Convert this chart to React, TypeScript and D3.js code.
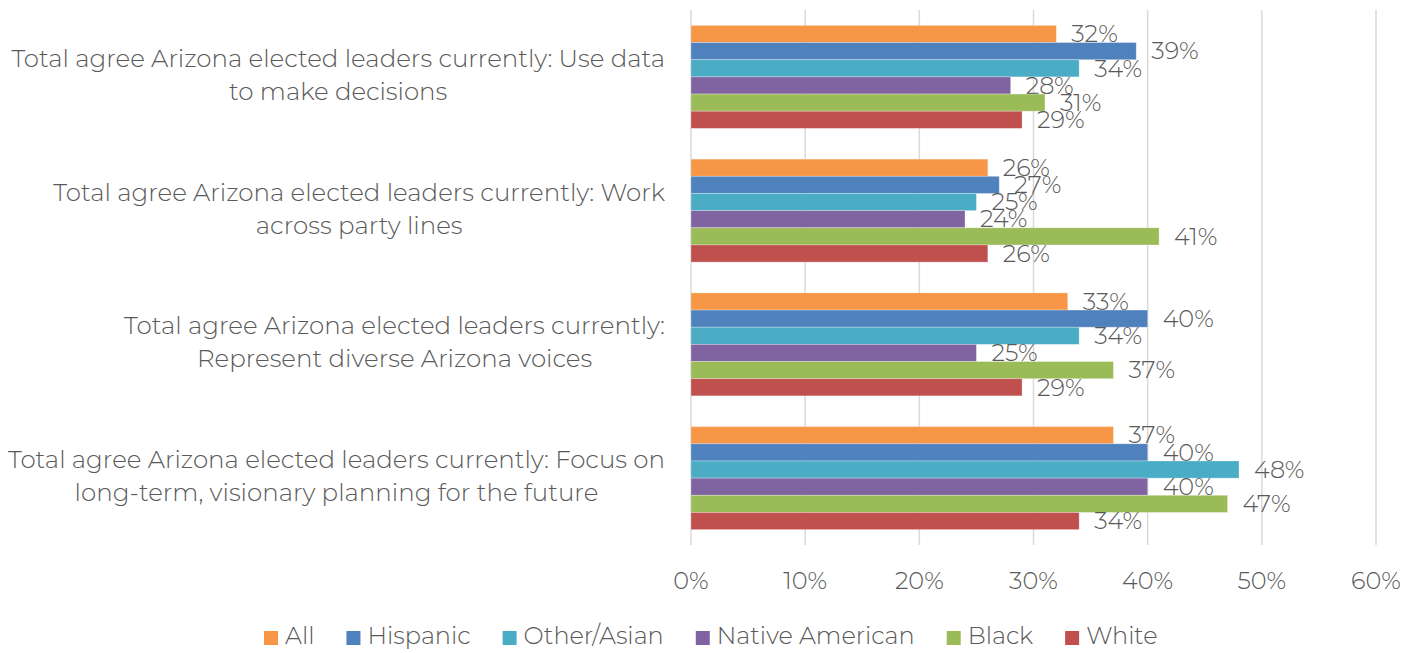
import React, { useEffect, useRef } from "react";
import * as d3 from "d3";

const categories = [
  ["Total agree Arizona elected leaders currently: Use data", "to make decisions"],
  ["Total agree Arizona elected leaders currently: Work", "across party lines"],
  ["Total agree Arizona elected leaders currently:", "Represent diverse Arizona voices"],
  ["Total agree Arizona elected leaders currently: Focus on", "long-term, visionary planning for the future"],
];
const seriesNames = ["All", "Hispanic", "Other/Asian", "Native American", "Black", "White"];
const seriesColors = ["#F79646", "#4F81BD", "#4BACC6", "#8064A2", "#9BBB59", "#C0504D"];
const allValues = [32, 26, 33, 37];
const hispanicValues = [39, 27, 40, 40];
const otherAsianValues = [34, 25, 34, 48];
const nativeAmericanValues = [28, 24, 25, 40];
const blackValues = [31, 41, 37, 47];
const whiteValues = [29, 26, 29, 34];
const seriesValues = [allValues, hispanicValues, otherAsianValues, nativeAmericanValues, blackValues, whiteValues];
const xTicks = [0, 10, 20, 30, 40, 50, 60];

const W = 1418, H = 653;
const FONT = "Montserrat, 'Open Sans', sans-serif";
const TEXT = "#595959";
const FW = 300;

export default function App() {
  const ref = useRef<SVGSVGElement>(null);
  useEffect(() => {
    const svg = d3.select(ref.current);
    svg.selectAll("*").remove();
    const x = d3.scaleLinear().domain([0, 60]).range([691, 1376]);
    const y = d3.scaleBand<number>().domain(d3.range(categories.length)).range([10, 545]).paddingInner(0.23).paddingOuter(0.115);
    const y1 = d3.scaleBand<number>().domain(d3.range(seriesNames.length)).range([0, y.bandwidth()]);

    const g = svg.append("g");
    g.selectAll("line.grid").data(xTicks).join("line")
      .attr("x1", d => x(d)).attr("x2", d => x(d)).attr("y1", 10).attr("y2", 545)
      .attr("stroke", "#d9d9d9").attr("stroke-width", 1.5);

    g.selectAll("text.tick").data(xTicks).join("text")
      .attr("x", d => x(d)).attr("y", 583).attr("text-anchor", "middle").attr("dominant-baseline", "middle")
      .attr("font-family", FONT).attr("font-weight", FW).attr("font-size", 24).attr("fill", TEXT).text(d => d + "%");

    categories.forEach((_, ci) => {
      const cg = g.append("g").attr("transform", `translate(0,${y(ci)})`);
      seriesValues.forEach((vals, si) => {
        const v = vals[ci];
        cg.append("rect").attr("x", x(0)).attr("y", y1(si)!).attr("width", x(v) - x(0)).attr("height", y1.bandwidth())
          .attr("fill", seriesColors[si]).attr("stroke", "#ffffff").attr("stroke-opacity", 0.35).attr("stroke-width", 0.8);
        cg.append("text").attr("x", x(v) + 15).attr("y", y1(si)! + y1.bandwidth() / 2 + 2)
          .attr("dominant-baseline", "middle").attr("font-family", FONT).attr("font-weight", FW).attr("font-size", 24).attr("fill", TEXT)
          .text(v + "%");
      });
    });

    categories.forEach((lines, ci) => {
      const cy = y(ci)! + y.bandwidth() / 2;
      const texts = lines.map((l, li) => g.append("text")
        .attr("y", cy + (li - (lines.length - 1) / 2) * 33)
        .attr("text-anchor", "middle").attr("dominant-baseline", "middle")
        .attr("font-family", FONT).attr("font-weight", FW).attr("font-size", 24.5).attr("fill", TEXT).text(l));
      const widths = texts.map(t => (t.node() as SVGTextElement).getComputedTextLength());
      const maxW = Math.max(...widths);
      texts.forEach(t => t.attr("x", 665 - maxW / 2));
    });

    let lx = 264;
    seriesNames.forEach((n, i) => {
      g.append("rect").attr("x", lx).attr("y", 631).attr("width", 14).attr("height", 14).attr("fill", seriesColors[i]);
      const t = g.append("text").attr("x", lx + 21).attr("y", 638).attr("dominant-baseline", "middle")
        .attr("font-family", FONT).attr("font-weight", FW).attr("font-size", 24).attr("fill", TEXT).text(n);
      lx += 21 + (t.node() as SVGTextElement).getComputedTextLength() + 32;
    });
  }, []);
  return <svg ref={ref} width={W} height={H} style={{ position: "absolute", left: 0, top: 0, background: "#fff" }} />;
}
